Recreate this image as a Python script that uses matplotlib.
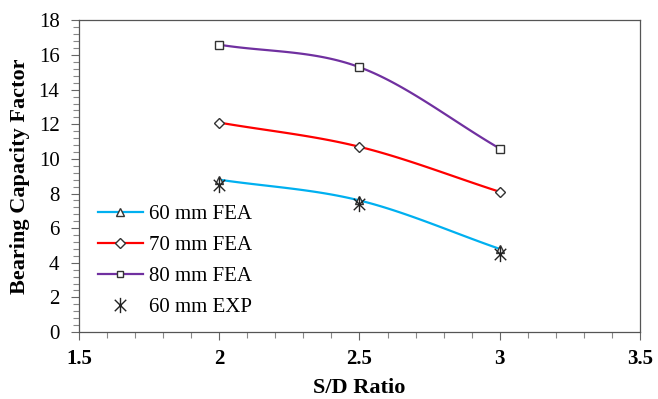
import numpy as np
import matplotlib
matplotlib.use("Agg")
import matplotlib.pyplot as plt
from matplotlib.path import Path
from matplotlib.lines import Line2D

plt.rcParams['font.family'] = ['Liberation Serif', 'DejaVu Serif']

sd_ratio = [2.0, 2.5, 3.0]
fea_60 = [8.8, 7.6, 4.8]
fea_70 = [12.1, 10.7, 8.1]
fea_80 = [16.6, 15.3, 10.6]
exp_60 = [8.5, 7.4, 4.5]

series = [
    ("60 mm FEA", fea_60, "#00B0F0", "^", 6.0),
    ("70 mm FEA", fea_70, "#FF0000", "D", 5.5),
    ("80 mm FEA", fea_80, "#7030A0", "s", 5.5),
]


def smooth(x, y, n=40):
    # Catmull-Rom style curve through the points (like a spreadsheet "smoothed line")
    x = np.asarray(x, float)
    y = np.asarray(y, float)
    px = np.concatenate([[2 * x[0] - x[1]], x, [2 * x[-1] - x[-2]]])
    py = np.concatenate([[2 * y[0] - y[1]], y, [2 * y[-1] - y[-2]]])
    xs, ys = [], []
    t = np.linspace(0, 1, n)
    for i in range(1, len(px) - 2):
        for p, out in ((px, xs), (py, ys)):
            p0, p1, p2, p3 = p[i - 1], p[i], p[i + 1], p[i + 2]
            out.extend(0.5 * ((2 * p1) + (-p0 + p2) * t
                              + (2 * p0 - 5 * p1 + 4 * p2 - p3) * t ** 2
                              + (-p0 + 3 * p1 - 3 * p2 + p3) * t ** 3))
    return xs, ys


# asterisk: vertical bar plus an X
star = Path([(0, -1), (0, 1), (-0.75, -0.75), (0.75, 0.75), (-0.75, 0.75), (0.75, -0.75)],
            [Path.MOVETO, Path.LINETO, Path.MOVETO, Path.LINETO, Path.MOVETO, Path.LINETO])

fig = plt.figure(figsize=(6.58, 3.99), dpi=100)
ax = fig.add_axes([0.120, 0.168, 0.8526, 0.7807])

handles = []
for label, vals, col, mk, ms in series:
    sx, sy = smooth(sd_ratio, vals)
    ax.plot(sx, sy, color=col, lw=1.6, zorder=2)
    ax.plot(sd_ratio, vals, ls="none", marker=mk, ms=ms, mfc="white", mec="#333333",
            mew=1.0, zorder=3)
    handles.append(Line2D([], [], color=col, lw=1.6, marker=mk, ms=ms - 0.5, mfc="white",
                          mec="#333333", mew=1.0, label=label))

ax.plot(sd_ratio, exp_60, ls="none", marker=star, ms=11, mec="#222222", mew=1.0, zorder=4)
handles.append(Line2D([], [], ls="none", marker=star, ms=11, mec="#222222", mew=1.0,
                      label="60 mm EXP"))

ax.set_xlim(1.5, 3.5)
ax.set_ylim(0, 18)
ax.set_xticks([1.5, 2, 2.5, 3, 3.5])
ax.set_xticklabels(["1.5", "2", "2.5", "3", "3.5"], fontweight="bold")
ax.set_yticks(np.arange(0, 19, 2))
ax.set_xticks(np.arange(1.5, 3.51, 0.1), minor=True)
ax.set_yticks(np.arange(0, 18.01, 0.4), minor=True)
ax.tick_params(axis="both", which="major", direction="out", length=6, width=0.8,
               colors="#666666", labelcolor="black", labelsize=15)
ax.tick_params(axis="both", which="minor", direction="out", length=4.5, width=0.8,
               colors="#888888")
ax.tick_params(axis="x", pad=6)
ax.tick_params(axis="y", pad=8)
for sp in ax.spines.values():
    sp.set_color("#555555")
    sp.set_linewidth(0.9)

ax.set_xlabel("S/D Ratio", fontsize=16, fontweight="bold", labelpad=7)
ax.set_ylabel("Bearing Capacity Factor", fontsize=16, fontweight="bold", labelpad=6)

ax.legend(handles=handles, loc="upper left", bbox_to_anchor=(0.034, 0.41), frameon=False,
          borderaxespad=0, borderpad=0, fontsize=15, handlelength=2.15,
          labelspacing=0.55, handletextpad=0.3)

fig.savefig("out.png", dpi=100)
